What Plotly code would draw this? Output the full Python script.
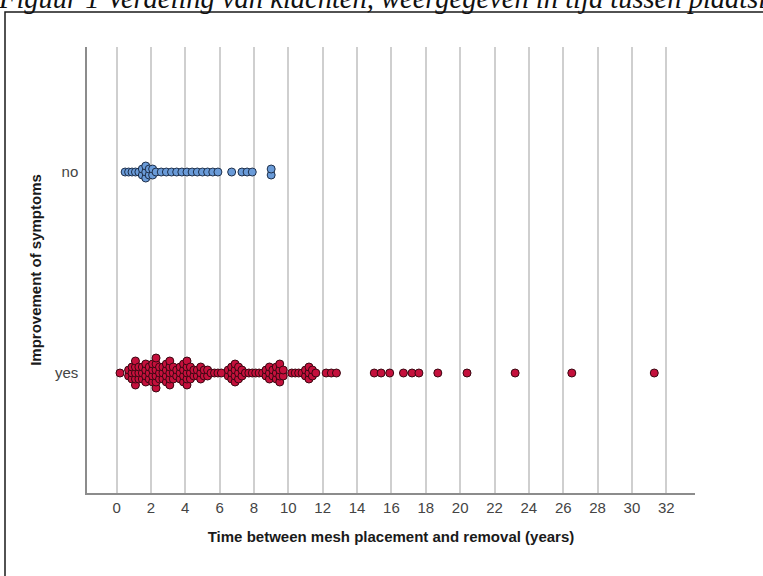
import numpy as np
import plotly.graph_objects as go

# ---------------- data (years between mesh placement and removal) ----------------
categories = ["yes", "no"]

no_values = [0.5, 0.7, 0.9, 1.1, 1.3, 1.5, 1.5, 1.7, 1.7, 1.7, 1.9, 1.9, 2.1, 2.1, 2.3,
             2.6, 2.9, 3.2, 3.5, 3.8, 4.1, 4.4, 4.7, 5.0, 5.3, 5.6, 5.9,
             6.7, 7.3, 7.6, 7.9, 9.0, 9.0]

yes_values = ([0.2] + [0.7] * 2 + [0.9] * 3 + [1.1] * 5 + [1.3] * 3 + [1.5] * 3 + [1.7] * 4 +
              [1.9] * 3 + [2.1] * 4 + [2.3] * 6 + [2.5] * 3 + [2.7] * 3 + [2.9] * 4 + [3.1] * 5 +
              [3.3] * 3 + [3.5] * 2 + [3.7] * 3 + [3.9] * 4 + [4.1] * 5 + [4.3] * 3 + [4.5] * 2 +
              [4.7] * 2 + [4.9] * 3 + [5.1] * 2 + [5.3] * 2 + [5.5, 5.7, 5.9, 6.1] +
              [6.5] * 2 + [6.7] * 3 + [6.9] * 4 + [7.1] * 3 + [7.3] * 2 +
              [7.5, 7.7, 7.9, 8.1, 8.3, 8.5] + [8.7] * 2 + [8.9] * 3 + [9.1] * 2 + [9.3] * 3 +
              [9.5] * 4 + [9.7] * 2 + [10.2, 10.4, 10.6, 10.8] + [11.0] * 2 + [11.2] * 3 +
              [11.4] * 2 + [11.6, 12.2, 12.5, 12.8] +
              [15.0, 15.4, 15.9, 16.7, 17.2, 17.6, 18.7, 20.4, 23.2, 26.5, 31.3])

x_ticks = list(range(0, 33, 2))
x_title = "Time between mesh placement and removal (years)"
y_title = "Improvement of symptoms"
caption = "Figuur 1 Verdeling van klachten, weergegeven in tijd tussen plaatsing en verwijdering"

# ---------------- layout geometry (body margin removed via post_script) ----------------
W, H = 763, 576
ML, MT = 87, 47
MR, MB = 763 - 695, 576 - 493
PW, PH = W - ML - MR, H - MT - MB
x_range = [-1.72, 33.67]
y_range = [-0.597, 1.622]
px_per_y = PH / (y_range[1] - y_range[0])
STEP_PX = 6.0
step = STEP_PX / px_per_y


def stacked(values, level):
    """Symmetric dot-plot stacking of identical values around the category level."""
    vals = np.asarray(values, dtype=float)
    ys = np.zeros_like(vals)
    keys = np.round(vals, 3)
    for k in np.unique(keys):
        idx = np.where(keys == k)[0]
        n = len(idx)
        ys[idx] = level + (np.arange(n) - (n - 1) / 2.0) * step
    return vals, ys


def page_x(px):
    return (px - ML) / PW


def page_y(py):
    return (H - MB - py) / PH


fig = go.Figure()

xn, yn = stacked(no_values, categories.index("no"))
xy, yy = stacked(yes_values, categories.index("yes"))

fig.add_trace(go.Scatter(
    x=xn, y=yn, mode="markers", showlegend=False, hoverinfo="x",
    marker=dict(size=8, color="#6a9bd8", line=dict(color="#1e2f4a", width=1)),
))
fig.add_trace(go.Scatter(
    x=xy, y=yy, mode="markers", showlegend=False, hoverinfo="x",
    marker=dict(size=8, color="#c4103c", line=dict(color="#3a0812", width=1)),
))

axis_font = dict(family="Liberation Sans Narrow, Arial Narrow, Liberation Sans, Arial, sans-serif",
                 size=15, color="#444444")
title_font = dict(family="Liberation Sans Narrow, Arial Narrow, Liberation Sans, Arial, sans-serif",
                  size=15, color="#1a1a1a", weight="bold")

fig.update_layout(
    width=W, height=H,
    margin=dict(l=ML, r=MR, t=MT, b=MB, autoexpand=False),
    paper_bgcolor="white", plot_bgcolor="white",
    xaxis=dict(
        range=x_range, tickmode="array", tickvals=x_ticks, ticktext=[str(t) for t in x_ticks],
        showgrid=True, gridcolor="#cfcfcf", gridwidth=1.5, zeroline=False,
        showline=True, linecolor="#8c8c8c", linewidth=1.5,
        ticks="", tickfont=axis_font, automargin=False,
        title=dict(text=x_title, font=title_font, standoff=17),
    ),
    yaxis=dict(
        range=y_range, tickmode="array", tickvals=[0, 1], ticktext=categories,
        showgrid=False, zeroline=False,
        showline=True, linecolor="#8c8c8c", linewidth=1.5,
        ticks="outside", ticklen=4, tickcolor="rgba(0,0,0,0)",
        tickfont=axis_font, automargin=False,
        title=dict(text=y_title, font=title_font, standoff=10),
    ),
    shapes=[dict(
        type="rect", xref="paper", yref="paper",
        x0=page_x(5), x1=page_x(800),
        y0=page_y(620), y1=page_y(12),
        line=dict(color="#1a1a1a", width=1.5), fillcolor="rgba(0,0,0,0)", layer="above",
    )],
    annotations=[dict(
        text="<i>" + caption + "</i>", xref="paper", yref="paper",
        x=page_x(-4), y=page_y(16.5), xanchor="left", yanchor="bottom",
        showarrow=False, font=dict(family="Liberation Serif, Times New Roman, serif",
                                   size=28.5, color="#111111"),
    )],
)

fig.write_html(
    "out.html",
    config={"displayModeBar": False},
    post_script="document.body.style.margin='0';document.body.style.overflow='hidden';",
)
